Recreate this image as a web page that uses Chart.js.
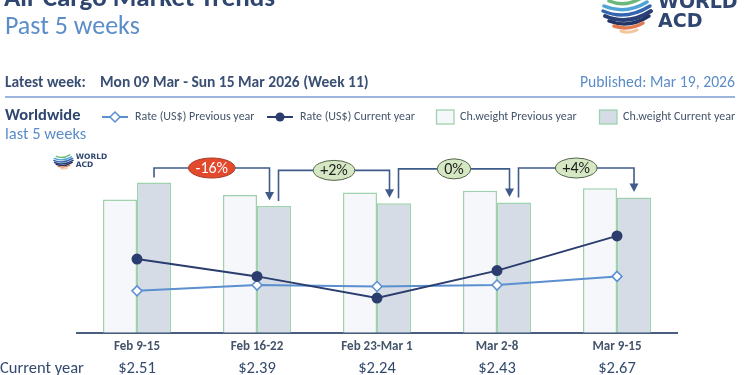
<!DOCTYPE html>
<html>
<head>
<meta charset="utf-8">
<script src="https://cdn.jsdelivr.net/npm/chart.js@4.4.1/dist/chart.umd.min.js"></script>
<style>
  body { margin: 0; background: #fff; }
  canvas { display: block; }
</style>
</head>
<body>
<canvas id="trendChart" width="750" height="375"></canvas>
<script>
// weeks on the x axis
const weekLabels = ['Feb 9-15', 'Feb 16-22', 'Feb 23-Mar 1', 'Mar 2-8', 'Mar 9-15'];
// average rate, US$ per kg
const ratePrevYear = [2.29, 2.33, 2.32, 2.33, 2.39];
const rateCurrYear = [2.51, 2.39, 2.24, 2.43, 2.67];
// chargeable weight (thousand tonnes)
const weightPrevYear = [442, 457, 466, 471, 480];
const weightCurrYear = [499, 421, 430, 432, 449];

const FONT = 'Carlito, Lato, sans-serif';
const LOGO_FONT = '"DejaVu Sans", sans-serif';
const NAVY = '#2F4670';
const LIGHT_BLUE = '#5B8DC9';
const GREY_NAVY = '#44546A';
const BAR_EDGE = '#9FD1AE';
const PREV_FILL = '#F6F7FA';
const CURR_FILL = '#D6DCE6';
const ARROW = '#3F5B8C';

// swoosh stripes of the logo, in a ~50x36 box
const logoStripes = [
  ['#6CB77A', 8, 1, 25, 8, 42, -3, 3.5],
  ['#4FA3D9', 3, 6, 25, 15, 46, 2, 3.5],
  ['#3465B0', 2, 11, 25, 21, 49, 6, 3.5],
  ['#2B3F77', 4, 16, 27, 26, 50, 11, 4],
  ['#223366', 8, 21, 28, 29, 48, 16, 3.5],
  ['#E07A50', 13, 26, 28, 31, 42, 23, 3.5],
  ['#F2C59B', 20, 31, 28, 34, 36, 30, 3]
];

function drawLogo(ctx, x, y, s, textSize) {
  ctx.save();
  ctx.lineCap = 'round';
  logoStripes.forEach(st => {
    ctx.strokeStyle = st[0];
    ctx.lineWidth = st[7] * s;
    ctx.beginPath();
    ctx.moveTo(x + st[1] * s, y + st[2] * s);
    ctx.quadraticCurveTo(x + st[3] * s, y + st[4] * s, x + st[5] * s, y + st[6] * s);
    ctx.stroke();
  });
  ctx.fillStyle = NAVY;
  ctx.font = 'bold ' + textSize + 'px ' + LOGO_FONT;
  ctx.textAlign = 'left';
  ctx.textBaseline = 'alphabetic';
  const tx = x + 57 * s;
  ctx.fillText('WORLD', tx, y + 8 * s);
  ctx.fillText('ACD', tx, y + 27 * s);
  ctx.restore();
}

function drawHeader(chart) {
  const ctx = chart.ctx;
  ctx.save();
  ctx.textAlign = 'left';
  ctx.textBaseline = 'alphabetic';
  ctx.fillStyle = NAVY;
  ctx.font = 'bold 27px ' + FONT;
  ctx.fillText('Air Cargo Market Trends', 4, 6);
  ctx.fillStyle = LIGHT_BLUE;
  ctx.font = '26px ' + FONT;
  ctx.fillText('Past 5 weeks', 5, 34);

  ctx.fillStyle = '#3A4F73';
  ctx.font = 'bold 15.5px ' + FONT;
  ctx.fillText('Latest week:', 5, 87);
  ctx.fillText('Mon 09 Mar - Sun 15 Mar 2026 (Week 11)', 100, 87);
  ctx.fillStyle = LIGHT_BLUE;
  ctx.font = '15.7px ' + FONT;
  ctx.textAlign = 'right';
  ctx.fillText('Published: Mar 19, 2026', 735, 87);

  ctx.strokeStyle = '#9DB5DD';
  ctx.lineWidth = 2;
  ctx.beginPath();
  ctx.moveTo(5, 97);
  ctx.lineTo(735, 97);
  ctx.stroke();

  ctx.textAlign = 'left';
  ctx.fillStyle = NAVY;
  ctx.font = 'bold 16.5px ' + FONT;
  ctx.fillText('Worldwide', 5, 120);
  ctx.fillStyle = LIGHT_BLUE;
  ctx.font = '16.5px ' + FONT;
  ctx.fillText('last 5 weeks', 5, 139);
  ctx.restore();

  drawLogo(ctx, 601, 0, 1, 19);
  drawLogo(ctx, 53, 156, 0.4, 7.5);
}

function drawLegend(chart) {
  const ctx = chart.ctx;
  const ds = chart.data.datasets;
  const y = 117;
  ctx.save();
  ctx.font = '12px ' + FONT;
  ctx.textBaseline = 'middle';
  ctx.textAlign = 'left';

  // rate previous year
  ctx.strokeStyle = ds[2].borderColor;
  ctx.lineWidth = 2;
  ctx.beginPath(); ctx.moveTo(102, y); ctx.lineTo(128, y); ctx.stroke();
  ctx.fillStyle = '#fff';
  ctx.lineWidth = 1.5;
  ctx.beginPath();
  ctx.moveTo(115, y - 5); ctx.lineTo(120, y); ctx.lineTo(115, y + 5); ctx.lineTo(110, y);
  ctx.closePath(); ctx.fill(); ctx.stroke();
  ctx.fillStyle = GREY_NAVY;
  ctx.fillText(ds[2].label, 135, y);

  // rate current year
  ctx.strokeStyle = ds[3].borderColor;
  ctx.lineWidth = 2;
  ctx.beginPath(); ctx.moveTo(267, y); ctx.lineTo(293, y); ctx.stroke();
  ctx.fillStyle = ds[3].borderColor;
  ctx.beginPath(); ctx.arc(280, y, 4.5, 0, Math.PI * 2); ctx.fill();
  ctx.fillStyle = GREY_NAVY;
  ctx.fillText(ds[3].label, 300, y);

  // weight boxes
  [[0, 436.5, 460], [1, 599.5, 623]].forEach(([k, bx, tx]) => {
    ctx.fillStyle = ds[k].backgroundColor;
    ctx.strokeStyle = ds[k].borderColor;
    ctx.lineWidth = 1.3;
    ctx.fillRect(bx, y - 7, 17.5, 14);
    ctx.strokeRect(bx, y - 7, 17.5, 14);
    ctx.fillStyle = GREY_NAVY;
    ctx.fillText(ds[k].label, tx, y);
  });
  ctx.restore();
}

function drawConnectors(chart) {
  const ctx = chart.ctx;
  const prevBars = chart.getDatasetMeta(0).data;
  const bars = chart.getDatasetMeta(1).data;
  const last = bars.length - 1;
  ctx.save();
  for (let i = 0; i < last; i++) {
    const a = bars[i], b = bars[i + 1];
    const x1 = a.x + (i > 0 ? 4.5 : 0);
    const x2 = b.x - (i + 1 < last ? 4.5 : 0);
    const topAll = Math.min(a.y, b.y, prevBars[i].y, prevBars[i + 1].y);
    const lineY = Math.max(topAll - 22, 168);

    ctx.strokeStyle = ARROW;
    ctx.fillStyle = ARROW;
    ctx.lineWidth = 1.6;
    ctx.beginPath();
    ctx.moveTo(x1, a.y - 5);
    ctx.lineTo(x1, lineY);
    ctx.lineTo(x2, lineY);
    ctx.lineTo(x2, b.y - 13);
    ctx.stroke();
    ctx.beginPath();
    ctx.moveTo(x2 - 4.5, b.y - 14);
    ctx.lineTo(x2 + 4.5, b.y - 14);
    ctx.lineTo(x2, b.y - 5.5);
    ctx.closePath();
    ctx.fill();

    // week-on-week change of current year weight
    const pct = Math.round((weightCurrYear[i + 1] / weightCurrYear[i] - 1) * 100);
    const text = (pct > 0 ? '+' : '') + pct + '%';
    ctx.font = '16px ' + FONT;
    const w = ctx.measureText(text).width;
    const cx = (x1 + x2) / 2;
    ctx.beginPath();
    ctx.ellipse(cx, lineY, w / 2 + 7, 10, 0, 0, Math.PI * 2);
    ctx.fillStyle = pct < 0 ? '#E2492D' : '#D6E8C3';
    ctx.fill();
    ctx.lineWidth = 1;
    ctx.strokeStyle = pct < 0 ? '#A93A26' : '#55654A';
    ctx.stroke();
    ctx.fillStyle = pct < 0 ? '#fff' : '#1E1E1E';
    ctx.textAlign = 'center';
    ctx.textBaseline = 'middle';
    ctx.fillText(text, cx, lineY + 1);
  }
  ctx.restore();
}

function drawRateRow(chart) {
  const ctx = chart.ctx;
  const xScale = chart.scales.x;
  ctx.save();
  ctx.fillStyle = '#34496E';
  ctx.font = '16.5px ' + FONT;
  ctx.textBaseline = 'alphabetic';
  ctx.textAlign = 'left';
  ctx.fillText('Current year', 0, 373);
  ctx.textAlign = 'center';
  rateCurrYear.forEach((r, i) => {
    ctx.fillText('$' + r.toFixed(2), xScale.getPixelForValue(i), 373);
  });
  ctx.restore();
}

const decorations = {
  id: 'decorations',
  afterDatasetsDraw(chart) {
    drawConnectors(chart);
  },
  afterDraw(chart) {
    drawHeader(chart);
    drawLegend(chart);
    drawRateRow(chart);
  }
};

function generateTrendChart() {
  const ctx = document.getElementById('trendChart').getContext('2d');
  new Chart(ctx, {
    data: {
      labels: weekLabels,
      datasets: [
        {
          type: 'bar', label: 'Ch.weight Previous year', data: weightPrevYear,
          backgroundColor: PREV_FILL, borderColor: BAR_EDGE, borderWidth: 1.5,
          yAxisID: 'yW', order: 2,
          categoryPercentage: 0.567, barPercentage: 1.0
        },
        {
          type: 'bar', label: 'Ch.weight Current year', data: weightCurrYear,
          backgroundColor: CURR_FILL, borderColor: BAR_EDGE, borderWidth: 1.5,
          yAxisID: 'yW', order: 2,
          categoryPercentage: 0.567, barPercentage: 1.0
        },
        {
          type: 'line', label: 'Rate (US$) Previous year', data: ratePrevYear,
          borderColor: '#5B8FD0', borderWidth: 2,
          pointStyle: 'rectRot', pointRadius: 5, pointBackgroundColor: '#fff',
          pointBorderColor: '#5B8FD0', pointBorderWidth: 1.5,
          yAxisID: 'yR', order: 1, tension: 0
        },
        {
          type: 'line', label: 'Rate (US$) Current year', data: rateCurrYear,
          borderColor: '#2B3D6E', borderWidth: 2,
          pointStyle: 'circle', pointRadius: 4.5, pointBackgroundColor: '#2B3D6E',
          pointBorderColor: '#2B3D6E',
          yAxisID: 'yR', order: 0, tension: 0
        }
      ]
    },
    options: {
      responsive: false,
      animation: false,
      layout: { padding: { top: 152, left: 77, right: 73, bottom: 14.6 } },
      plugins: { legend: { display: false }, tooltip: { enabled: false } },
      scales: {
        x: {
          offset: true,
          grid: { display: false, drawTicks: false },
          border: { display: true, color: '#4A5F80', width: 2 },
          ticks: { color: GREY_NAVY, padding: 6, font: { family: FONT, size: 13, weight: 'bold' } }
        },
        yW: { display: false, min: 0, max: 600 },
        yR: { display: false, min: 2, max: 3.25 }
      }
    },
    plugins: [decorations]
  });
}

generateTrendChart();
</script>
</body>
</html>
